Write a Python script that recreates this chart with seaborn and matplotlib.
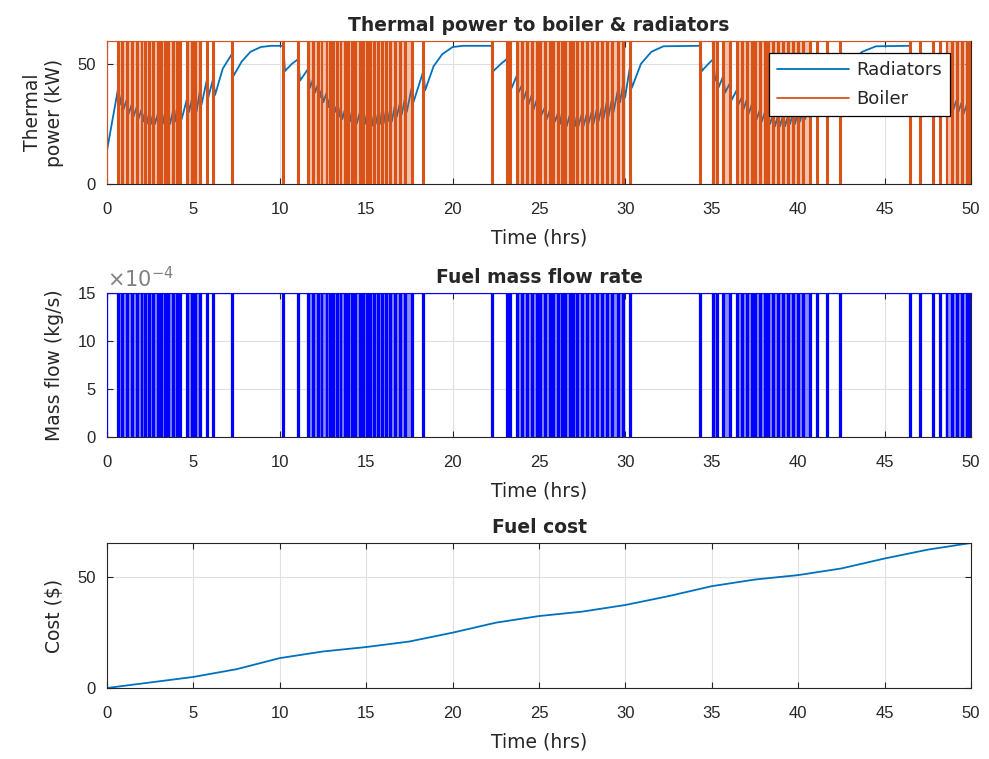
import numpy as np
import matplotlib
matplotlib.use("Agg")
import matplotlib.pyplot as plt
import matplotlib.ticker as mticker
import seaborn as sns

# ---------------------------------------------
# data
# ---------------------------------------------

# boiler off periods (start, end) in hours; boiler is on between them
boiler_off = [
    (0.65, 0.70), (0.85, 0.90), (1.14, 1.19), (1.43, 1.48), (1.72, 1.77),
    (2.00, 2.05), (2.20, 2.25), (2.45, 2.50), (2.68, 2.73), (2.97, 3.02),
    (3.13, 3.18), (3.36, 3.41), (3.55, 3.60), (3.84, 3.89), (4.03, 4.08),
    (4.22, 4.27), (4.65, 4.70), (4.90, 4.95), (5.09, 5.14), (5.38, 5.43),
    (5.77, 5.82), (6.15, 6.20), (7.22, 7.28),
    (10.20, 10.26), (11.07, 11.12), (11.65, 11.70), (11.94, 11.99),
    (12.23, 12.28), (12.42, 12.47), (12.71, 12.76), (12.91, 12.96),
    (13.10, 13.15), (13.33, 13.38), (13.52, 13.57), (13.77, 13.82),
    (13.97, 14.02), (14.16, 14.21), (14.35, 14.40), (14.64, 14.69),
    (14.83, 14.88), (15.03, 15.08), (15.22, 15.27), (15.45, 15.50),
    (15.70, 15.75), (15.90, 15.95), (16.15, 16.20), (16.38, 16.43),
    (16.67, 16.72), (16.96, 17.01), (17.25, 17.30), (17.63, 17.68),
    (18.31, 18.37),
    (22.26, 22.32), (23.13, 23.18), (23.32, 23.37), (23.71, 23.76),
    (24.00, 24.05), (24.29, 24.34), (24.58, 24.63), (24.87, 24.92),
    (25.06, 25.11), (25.35, 25.40), (25.64, 25.69), (25.83, 25.88),
    (26.12, 26.17), (26.31, 26.36), (26.50, 26.55), (26.79, 26.84),
    (26.99, 27.04), (27.18, 27.23), (27.47, 27.52), (27.76, 27.81),
    (28.05, 28.10), (28.34, 28.39), (28.63, 28.68), (28.92, 28.97),
    (29.21, 29.26), (29.59, 29.64), (29.88, 29.93), (30.27, 30.33),
    (34.32, 34.38), (35.09, 35.14), (35.28, 35.33), (35.67, 35.72),
    (36.05, 36.10), (36.44, 36.49), (36.73, 36.78), (37.02, 37.07),
    (37.31, 37.36), (37.50, 37.55), (37.79, 37.84), (38.08, 38.13),
    (38.27, 38.32), (38.56, 38.61), (38.85, 38.90), (39.14, 39.19),
    (39.43, 39.48), (39.72, 39.77), (40.01, 40.06), (40.30, 40.35),
    (40.68, 40.73), (41.07, 41.12), (41.65, 41.70), (42.42, 42.48),
    (46.47, 46.53), (47.05, 47.10), (47.82, 47.87), (48.21, 48.26),
    (48.59, 48.64), (48.88, 48.93), (49.17, 49.22), (49.46, 49.51),
    (49.75, 49.80), (49.94, 49.99),
]
boiler_on_kw = 59.5
fuel_on_kgs = 15e-4

# radiator thermal power (hrs, kW)
radiators = [
    (0.0, 14), (0.65, 40), (0.75, 33), (0.85, 37), (0.95, 31), (1.14, 35),
    (1.24, 29), (1.43, 33), (1.53, 28), (1.72, 32), (1.82, 27), (2.0, 31),
    (2.1, 26), (2.2, 30), (2.3, 25), (2.45, 30), (2.55, 25), (2.68, 30),
    (2.78, 25), (2.97, 30), (3.06, 25), (3.13, 29), (3.23, 25), (3.36, 30),
    (3.46, 25), (3.55, 30), (3.65, 25), (3.84, 31), (3.94, 26), (4.03, 31),
    (4.12, 26), (4.22, 32), (4.32, 27), (4.65, 36), (4.75, 30), (4.9, 35),
    (4.99, 30), (5.09, 35), (5.18, 30), (5.38, 39), (5.47, 33), (5.77, 43),
    (5.86, 36), (6.15, 44), (6.25, 37), (6.7, 48), (7.22, 54), (7.32, 45),
    (7.8, 51), (8.3, 55), (8.9, 57), (9.5, 57.5), (10.2, 57.5), (10.3, 47),
    (10.7, 50), (11.07, 52), (11.17, 43), (11.65, 48), (11.75, 40),
    (11.94, 44), (12.04, 38), (12.23, 42), (12.33, 36), (12.42, 39),
    (12.52, 34), (12.71, 38), (12.81, 32), (12.91, 36), (13.0, 31),
    (13.1, 35), (13.2, 30), (13.33, 33), (13.43, 28), (13.52, 32),
    (13.62, 27), (13.77, 31), (13.87, 26), (13.97, 30), (14.06, 26),
    (14.16, 30), (14.26, 25), (14.35, 29), (14.45, 25), (14.64, 30),
    (14.74, 25), (14.83, 29), (14.93, 25), (15.03, 29), (15.12, 24),
    (15.22, 29), (15.32, 24), (15.45, 29), (15.55, 25), (15.7, 30),
    (15.8, 25), (15.9, 30), (16.0, 25), (16.15, 31), (16.25, 26),
    (16.38, 31), (16.48, 26), (16.67, 33), (16.77, 28), (16.96, 34),
    (17.06, 29), (17.25, 36), (17.35, 30), (17.63, 40), (17.73, 34),
    (18.31, 47), (18.41, 39), (18.9, 49), (19.4, 54), (20.0, 57),
    (20.6, 57.5), (22.26, 57.5), (22.36, 47), (22.8, 50),
    (23.13, 52), (23.23, 43), (23.32, 45), (23.42, 40), (23.71, 45),
    (23.81, 38), (24.0, 41), (24.1, 35), (24.29, 39), (24.39, 33),
    (24.58, 37), (24.68, 31), (24.87, 35), (24.96, 30), (25.06, 33),
    (25.16, 29), (25.35, 32), (25.45, 27), (25.64, 31), (25.73, 26),
    (25.83, 30), (25.93, 26), (26.12, 30), (26.22, 25), (26.31, 29),
    (26.4, 25), (26.5, 29), (26.6, 24), (26.79, 29), (26.89, 24),
    (26.99, 28), (27.08, 24), (27.18, 28), (27.28, 24), (27.47, 29),
    (27.57, 24), (27.76, 29), (27.86, 25), (28.05, 30), (28.15, 25),
    (28.34, 31), (28.44, 26), (28.63, 32), (28.73, 27), (28.92, 34),
    (29.02, 28), (29.21, 35), (29.31, 30), (29.59, 40), (29.69, 34),
    (29.88, 42), (29.98, 36), (30.27, 49), (30.37, 40), (30.9, 50),
    (31.5, 55), (32.2, 57.3), (34.32, 57.5), (34.42, 47), (34.8, 50),
    (35.09, 52), (35.19, 43), (35.28, 45), (35.38, 40), (35.67, 45),
    (35.77, 38), (36.05, 42), (36.15, 35), (36.44, 39), (36.54, 33),
    (36.73, 36), (36.83, 31), (37.02, 35), (37.12, 29), (37.31, 33),
    (37.4, 28), (37.5, 31), (37.6, 27), (37.79, 31), (37.89, 26),
    (38.08, 30), (38.17, 25), (38.27, 29), (38.37, 25), (38.56, 29),
    (38.66, 24), (38.85, 29), (38.95, 24), (39.14, 29), (39.24, 24),
    (39.43, 29), (39.53, 25), (39.72, 30), (39.82, 25), (40.01, 31),
    (40.11, 26), (40.3, 32), (40.4, 27), (40.68, 35), (40.78, 30),
    (41.07, 38), (41.17, 32), (41.65, 43), (41.75, 36), (42.42, 50),
    (42.52, 42), (43.1, 51), (43.7, 55), (44.5, 57.3), (46.47, 57.5),
    (46.57, 47), (46.8, 50), (47.05, 52), (47.15, 43), (47.82, 48),
    (47.92, 39), (48.21, 42), (48.31, 35), (48.59, 39), (48.69, 33),
    (48.88, 37), (48.98, 31), (49.17, 35), (49.27, 30), (49.46, 34),
    (49.56, 29), (49.75, 33), (49.85, 29), (49.94, 32), (50.0, 28),
]
rad_t = [p[0] for p in radiators]
rad_kw = [p[1] for p in radiators]

# cumulative fuel cost (hrs, $)
cost_t = [0, 2.5, 5, 7.5, 10, 12.5, 15, 17.5, 20, 22.5, 25, 27.5, 30,
          32.5, 35, 37.5, 40, 42.5, 45, 47.5, 50]
cost_usd = [0, 2.5, 5, 8.5, 13.5, 16.5, 18.5, 21, 25, 29.5, 32.5, 34.5, 37.5,
            41.5, 46, 49, 51, 54, 58.5, 62.5, 65.5]

# ---------------------------------------------
# step series for the on/off signals
# ---------------------------------------------
step_t = [0.0, 0.0]
step_on = [0, 1]
for s, e in boiler_off:
    step_t += [s, s, e, e]
    step_on += [1, 0, 0, 1]
step_t.append(50.0)
step_on.append(step_on[-1])
step_on = np.array(step_on, dtype=float)
step_t = np.array(step_t)

# ---------------------------------------------
# style
# ---------------------------------------------
sns.set_style("whitegrid")
plt.rcParams["font.family"] = ["Liberation Sans", "DejaVu Sans"]
plt.rcParams["mathtext.fontset"] = "dejavusans"
plt.rcParams["axes.unicode_minus"] = False

blue = "#0072BD"
orange = "#D95319"
txt = "#262626"
label_font = dict(family="DejaVu Sans", size=13.5, color=txt)
title_font = dict(family="DejaVu Sans", size=13.5, weight="bold", color=txt)

fig = plt.figure(figsize=(9.89, 7.59), dpi=100)
left, width = 107 / 989, 864 / 989
ax1 = fig.add_axes([left, 1 - 184 / 759, width, 143 / 759])
ax2 = fig.add_axes([left, 1 - 437 / 759, width, 144 / 759])
ax3 = fig.add_axes([left, 1 - 688 / 759, width, 145 / 759])


def matlab_axes(ax, ylabel, title):
    ax.set_facecolor("white")
    ax.grid(True, color="#e0e0e0", linewidth=0.8)
    for sp in ax.spines.values():
        sp.set_visible(True)
        sp.set_color(txt)
        sp.set_linewidth(0.8)
    ax.tick_params(direction="in", length=4, width=0.8, colors=txt,
                   labelsize=12, top=True, right=True, bottom=True, left=True,
                   labelcolor=txt)
    ax.tick_params(axis="x", pad=13)
    ax.tick_params(axis="y", pad=8)
    ax.set_xlim(0, 50)
    ax.xaxis.set_major_locator(mticker.MultipleLocator(5))
    ax.set_xlabel("Time (hrs)", fontdict=label_font, labelpad=8)
    ax.set_ylabel(ylabel, fontdict=label_font)
    ax.yaxis.set_label_coords(-0.050, 0.5)
    ax.set_title(title, fontdict=title_font, pad=7)


def shade_dense(ax, color, alpha, top):
    # light fill where the switching is too fast to separate the lines
    for (s0, e0), (s1, e1) in zip(boiler_off[:-1], boiler_off[1:]):
        if s1 - e0 < 0.33:
            ax.fill_between([s0, e1], 0, top, color=color, alpha=alpha,
                            linewidth=0, zorder=3)


# ---- thermal power
sns.lineplot(x=rad_t, y=rad_kw, ax=ax1, color=blue, linewidth=1.3,
             label="Radiators", estimator=None, sort=False, zorder=2)
shade_dense(ax1, orange, 0.35, boiler_on_kw)
sns.lineplot(x=step_t, y=step_on * boiler_on_kw, ax=ax1, color=orange,
             linewidth=1.5, label="Boiler", estimator=None, sort=False,
             zorder=4)
matlab_axes(ax1, "Thermal\npower (kW)", "Thermal power to boiler & radiators")
ax1.set_ylim(0, boiler_on_kw)
ax1.set_yticks([0, 50])
leg = ax1.legend(loc="upper right", bbox_to_anchor=(0.9757, 0.916),
                 borderaxespad=0, prop=dict(family="DejaVu Sans", size=13),
                 frameon=True, fancybox=False, edgecolor="black",
                 framealpha=1, handlelength=4.0, handletextpad=0.4,
                 labelspacing=0.6, borderpad=0.45)
leg.get_frame().set_linewidth(0.9)
leg.set_zorder(10)
for line in leg.get_lines():
    line.set_linewidth(1.3)

# ---- fuel mass flow
shade_dense(ax2, "blue", 0.45, fuel_on_kgs)
sns.lineplot(x=step_t, y=step_on * fuel_on_kgs, ax=ax2, color="blue",
             linewidth=1.6, estimator=None, sort=False, zorder=4)
matlab_axes(ax2, "Mass flow (kg/s)", "Fuel mass flow rate")
ax2.set_ylim(0, fuel_on_kgs)
ax2.set_yticks([0, 5e-4, 10e-4, 15e-4])
ax2.yaxis.set_major_formatter(mticker.FuncFormatter(lambda v, p: f"{v * 1e4:g}"))
ax2.text(0.0, 1.012, r"$\times10^{-4}$", transform=ax2.transAxes,
         fontsize=15, color="#808080", ha="left", va="bottom")

# ---- fuel cost
sns.lineplot(x=cost_t, y=cost_usd, ax=ax3, color=blue, linewidth=1.3,
             estimator=None, sort=False)
matlab_axes(ax3, "Cost (\\$)", "Fuel cost")
ax3.set_ylim(0, 65.5)
ax3.set_yticks([0, 50])

fig.savefig("out.png", dpi=100, facecolor="white")
